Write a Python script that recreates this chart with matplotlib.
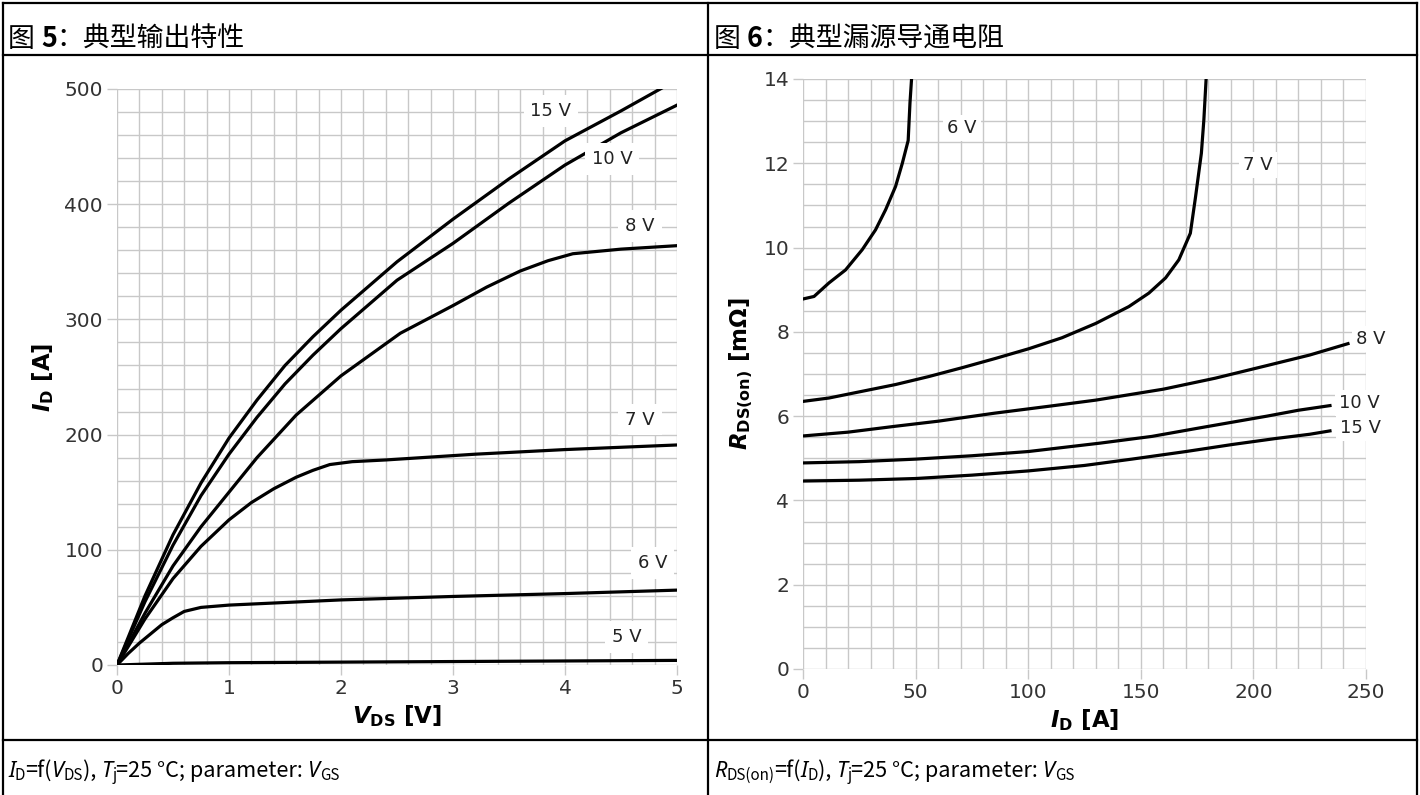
import numpy as np
import matplotlib
matplotlib.use('Agg')
import matplotlib.pyplot as plt
from matplotlib.lines import Line2D
from matplotlib.ticker import MultipleLocator

plt.rcParams['font.family'] = ['DejaVu Sans']
plt.rcParams['mathtext.fontset'] = 'dejavusans'

# --- Fig. 5: output characteristic, I_D vs V_DS ---
vds_15 = [0, 0.25, 0.5, 0.75, 1.0, 1.25, 1.5, 1.75, 2.0, 2.5, 3.0, 3.5, 4.0, 4.5, 4.85, 5.0]
id_15 = [0, 60, 113, 158, 197, 230, 260, 285, 308, 350, 387, 422, 455, 481, 500, 508]
vds_10 = [0, 0.25, 0.5, 0.75, 1.0, 1.25, 1.5, 1.75, 2.0, 2.5, 3.0, 3.5, 4.0, 4.5, 5.0]
id_10 = [0, 55, 104, 147, 183, 215, 244, 269, 292, 334, 366, 401, 434, 462, 486]
vds_8 = [0, 0.25, 0.5, 0.75, 1.0, 1.25, 1.6, 2.0, 2.53, 3.0, 3.3, 3.6, 3.85, 4.07, 4.5, 5.0]
id_8 = [0, 45, 86, 120, 150, 180, 217, 251, 288, 312, 328, 342, 351, 357, 361, 364]
vds_7 = [0, 0.25, 0.5, 0.75, 1.0, 1.2, 1.4, 1.6, 1.75, 1.9, 2.1, 2.4, 3.2, 4.0, 5.0]
id_7 = [0, 40, 75, 103, 126, 141, 153, 163, 169, 174, 176.5, 178, 183, 187, 191]
vds_6 = [0, 0.1, 0.2, 0.3, 0.4, 0.5, 0.6, 0.75, 1.0, 2.0, 3.0, 4.0, 5.0]
id_6 = [0, 10, 19, 27, 35, 41, 46.5, 50, 52, 56.5, 59.5, 62, 65]
vds_5 = [0, 0.5, 1, 2, 3, 4, 5]
id_5 = [0, 1.5, 2, 2.5, 3, 3.5, 4]

out_curves = [(vds_15, id_15), (vds_10, id_10), (vds_8, id_8),
              (vds_7, id_7), (vds_6, id_6), (vds_5, id_5)]
out_labels = ["15 V", "10 V", "8 V", "7 V", "6 V", "5 V"]
out_label_x = [3.875, 4.42, 4.67, 4.67, 4.78, 4.55]
out_label_y = [481, 439, 381, 213, 88.5, 24]

# --- Fig. 6: on-resistance, R_DS(on) vs I_D ---
id6_6 = [0, 4.9, 11.5, 18.9, 26.3, 32.2, 36.7, 41.1, 44.1, 46.7, 47.5, 48.2]
r6_6 = [8.78, 8.84, 9.16, 9.47, 9.95, 10.42, 10.9, 11.45, 12.0, 12.54, 13.43, 14.0]
id6_7 = [0, 11.5, 26.3, 41.1, 55.9, 70.7, 85.5, 100.3, 115, 130, 144.7, 153.6,
         161, 166.9, 172, 174.3, 176.9, 178, 179]
r6_7 = [6.35, 6.43, 6.59, 6.75, 6.94, 7.15, 7.37, 7.6, 7.86, 8.2, 8.6, 8.92,
        9.28, 9.71, 10.34, 11.2, 12.24, 13.03, 14.0]
id6_8 = [0, 20, 41, 60, 85, 110, 130, 160, 183, 206, 225, 242]
r6_8 = [5.53, 5.62, 5.76, 5.88, 6.07, 6.24, 6.38, 6.64, 6.9, 7.2, 7.45, 7.72]
id6_10 = [0, 25, 50, 75, 100, 132, 155, 176, 206, 220, 234]
r6_10 = [4.89, 4.92, 4.98, 5.06, 5.16, 5.36, 5.52, 5.72, 6.0, 6.14, 6.25]
id6_15 = [0, 25, 50, 75, 100, 125, 146, 170, 191, 210, 225, 234]
r6_15 = [4.46, 4.48, 4.52, 4.6, 4.7, 4.83, 4.98, 5.16, 5.33, 5.47, 5.57, 5.65]

res_curves = [(id6_6, r6_6), (id6_7, r6_7), (id6_8, r6_8),
              (id6_10, r6_10), (id6_15, r6_15)]
res_labels = ["6 V", "7 V", "8 V", "10 V", "15 V"]
res_label_x = [70.6, 202, 252, 247, 247.5]
res_label_y = [12.84, 11.96, 7.83, 6.31, 5.72]

W, H = 1420, 795
fig = plt.figure(figsize=(W / 100, H / 100), dpi=100)
renderer = fig.canvas.get_renderer()

CJK = ['Noto Sans CJK SC', 'DejaVu Sans']
grid_c = '#c8c8c8'
tick_c = '#333333'


def fx(px):
    return px / W


def fy(py):
    return 1 - py / H


def hline(y, x0, x1):
    fig.add_artist(Line2D([fx(x0), fx(x1)], [fy(y), fy(y)], transform=fig.transFigure,
                          color='black', lw=1.6))


def vline(x, y0, y1):
    fig.add_artist(Line2D([fx(x), fx(x)], [fy(y0), fy(y1)], transform=fig.transFigure,
                          color='black', lw=1.6))


def rich(x, y, parts):
    # row of text pieces (pixel coords, baseline y); a number is a gap in px
    cur = x
    for p in parts:
        if not isinstance(p, tuple):
            cur += p
            continue
        s, kw, dy = p
        t = fig.text(fx(cur), fy(y + dy), s, ha='left', va='baseline', **kw)
        cur += t.get_window_extent(renderer).width


def style_axes(ax, xmaj, xmin, ymaj, ymin):
    for sp in ax.spines.values():
        sp.set_visible(False)
    ax.xaxis.set_major_locator(MultipleLocator(xmaj))
    ax.xaxis.set_minor_locator(MultipleLocator(xmin))
    ax.yaxis.set_major_locator(MultipleLocator(ymaj))
    ax.yaxis.set_minor_locator(MultipleLocator(ymin))
    ax.grid(True, which='both', color=grid_c, lw=1.0)
    ax.set_axisbelow(True)
    ax.tick_params(which='major', length=7, width=1, color=grid_c, labelsize=14.5,
                   labelcolor=tick_c, pad=3)
    ax.tick_params(which='minor', length=0)


# left panel
ax1 = fig.add_axes([fx(117), fy(665), fx(677) - fx(117), fy(89) - fy(665)])
style_axes(ax1, 1, 0.2, 100, 20)
ax1.set_xlim(0, 5)
ax1.set_ylim(0, 500)
for (xs, ys) in out_curves:
    ax1.plot(xs, ys, color='black', lw=2.3, solid_joinstyle='round')
for lab, lx, ly in zip(out_labels, out_label_x, out_label_y):
    ax1.text(lx, ly, lab, fontsize=13, color='#222222', ha='center', va='center',
             bbox=dict(facecolor='white', edgecolor='none', pad=5), zorder=5)
ax1.set_xlabel(r'$\boldsymbol{V}_\mathbf{DS}$ [V]', fontsize=16.5, fontweight='bold', labelpad=4)
ax1.set_ylabel(r'$\boldsymbol{I}_\mathbf{D}$ [A]', fontsize=16.5, fontweight='bold', labelpad=6)

# right panel
ax2 = fig.add_axes([fx(803), fy(669), fx(1366) - fx(803), fy(79) - fy(669)])
style_axes(ax2, 50, 10, 2, 0.5)
ax2.set_xlim(0, 250)
ax2.set_ylim(0, 14)
for (xs, ys) in res_curves:
    ax2.plot(xs, ys, color='black', lw=2.3, solid_joinstyle='round')
for lab, lx, ly in zip(res_labels, res_label_x, res_label_y):
    ax2.text(lx, ly, lab, fontsize=13, color='#222222', ha='center', va='center',
             bbox=dict(facecolor='white', edgecolor='none', pad=3), zorder=5, clip_on=False)
ax2.set_xlabel(r'$\boldsymbol{I}_\mathbf{D}$ [A]', fontsize=16.5, fontweight='bold', labelpad=4)
ax2.set_ylabel(r'$\boldsymbol{R}_\mathbf{DS(on)}$ [m$\mathbf{\Omega}$]', fontsize=16.5,
               fontweight='bold', labelpad=6)

# table frame
hline(3, 3, 1417)
hline(55, 3, 1417)
hline(740, 3, 1417)
vline(3, 3, 795)
vline(708, 3, 795)
vline(1417, 3, 795)

# titles
big = dict(family=CJK, fontsize=19.4, color='black')
bigb = dict(family=CJK, fontsize=19.4, color='black', fontweight='bold')
rich(8, 47, [("图", big, 0), 6, ("5", bigb, 0), ("：典型输出特性", big, 0)])
rich(714, 47, [("图", big, 0), 6, ("6", bigb, 0), ("：典型漏源导通电阻", big, 0)])

# captions
fs = 15.6
cap = dict(family=CJK, fontsize=fs, color='black')
capi = dict(family=['Noto Sans', 'DejaVu Sans'], style='italic', fontsize=fs, color='black')
sub = dict(family=CJK, fontsize=fs * 0.7, color='black')
d = 3
rich(8, 777, [("I", capi, 0), ("D", sub, d), ("=f(", cap, 0), ("V", capi, 0), ("DS", sub, d),
              ("), ", cap, 0), ("T", capi, 0), ("j", sub, d), ("=25 °C; parameter: ", cap, 0),
              ("V", capi, 0), ("GS", sub, d)])
rich(714, 777, [("R", capi, 0), ("DS(on)", sub, d), ("=f(", cap, 0), ("I", capi, 0), ("D", sub, d),
                ("), ", cap, 0), ("T", capi, 0), ("j", sub, d), ("=25 °C; parameter: ", cap, 0),
                ("V", capi, 0), ("GS", sub, d)])

fig.savefig('out.png', dpi=100)
